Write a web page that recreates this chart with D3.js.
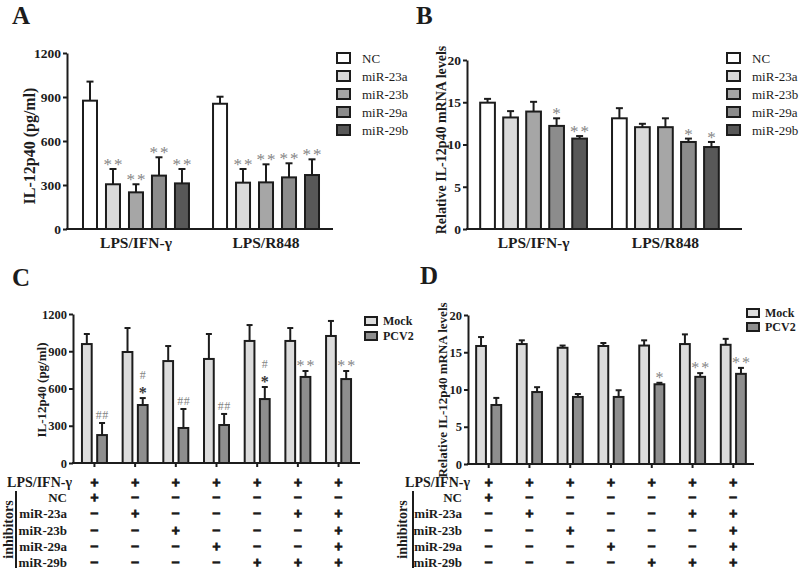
<!DOCTYPE html>
<html><head><meta charset="utf-8">
<script src="https://cdn.jsdelivr.net/npm/d3@7"></script>
<style>body{margin:0;background:#fff}svg{display:block}</style>
</head><body><svg id="c" width="800" height="570"></svg>
<script>
// ---------- data ----------
const groupsAB = ["LPS/IFN-γ", "LPS/R848"];
const seriesAB = ["NC", "miR-23a", "miR-23b", "miR-29a", "miR-29b"];
const colorsAB = ["#ffffff", "#dadada", "#a6a6a6", "#8c8c8c", "#585858"];
const aTicks = [0, 300, 600, 900, 1200];
const aMean = [[875, 305, 250, 364, 311], [854, 316, 318, 352, 368]];
const aSem  = [[130, 104, 55, 125, 98], [48, 93, 123, 96, 107]];
const aSig  = [["", "**", "**", "**", "**"], ["", "**", "**", "**", "**"]];
const bTicks = [0, 5, 10, 15, 20];
const bMean = [[14.95, 13.2, 13.9, 12.2, 10.7], [13.1, 12.05, 12.05, 10.3, 9.7]];
const bSem  = [[0.45, 0.75, 1.15, 0.9, 0.3], [1.2, 0.4, 1.05, 0.4, 0.6]];
const bSig  = [["", "", "", "*", "**"], ["", "", "", "*", "*"]];

const groupsCD = ["g1", "g2", "g3", "g4", "g5", "g6", "g7"];
const seriesCD = ["Mock", "PCV2"];
const colorsCD = ["#dcdcdc", "#8e8e8e"];
const cTicks = [0, 300, 600, 900, 1200];
const cMock = [958, 894, 821, 838, 983, 983, 1023];
const cMockSem = [81, 193, 121, 201, 128, 104, 121];
const cPcv2 = [225, 467, 282, 306, 515, 693, 676];
const cPcv2Sem = [97, 56, 153, 89, 97, 48, 65];
const cHash = ["##", "#", "##", "##", "#", "", ""];
const cStar = ["", "*", "", "", "*", "**", "**"];
const dTicks = [0, 5, 10, 15, 20];
const dMock = [15.84, 16.1, 15.6, 15.84, 15.9, 16.1, 16.0];
const dMockSem = [1.2, 0.5, 0.3, 0.4, 0.7, 1.3, 0.8];
const dPcv2 = [7.92, 9.66, 9.0, 9.0, 10.7, 11.7, 12.1];
const dPcv2Sem = [0.95, 0.65, 0.4, 0.9, 0.2, 0.5, 0.8];
const dStar = ["", "", "", "", "*", "**", "**"];

const treatLabel = "LPS/IFN-γ";
const treatRow = ["+", "+", "+", "+", "+", "+", "+"];
const inhibLabels = ["NC", "miR-23a", "miR-23b", "miR-29a", "miR-29b"];
const inhibRows = [
  ["+", "−", "−", "−", "−", "−", "−"],
  ["−", "+", "−", "−", "−", "+", "+"],
  ["−", "−", "+", "−", "−", "−", "+"],
  ["−", "−", "−", "+", "−", "−", "+"],
  ["−", "−", "−", "−", "+", "+", "+"]
];

// ---------- helpers ----------
const svg = d3.select("#c");
const SERIF = "'Liberation Serif','Times New Roman',serif";
const INK = "#1c1c1c";
const STAR = "#858585";

function yAxis(g, y, ticks, x0, fs) {
  const ax = g.append("g").attr("transform", `translate(${x0},0)`)
    .call(d3.axisLeft(y).tickValues(ticks).tickFormat(d3.format("d")).tickSize(4).tickSizeOuter(0).tickPadding(2));
  ax.select(".domain").attr("stroke", INK).attr("stroke-width", 2);
  ax.selectAll(".tick line").attr("stroke", INK).attr("stroke-width", 2);
  ax.selectAll(".tick text").attr("font-family", SERIF).attr("font-weight", "bold")
    .attr("font-size", fs).attr("fill", INK);
}

function xLine(g, xa, xb, yv) {
  g.append("line").attr("x1", xa - 1).attr("x2", xb).attr("y1", yv).attr("y2", yv)
    .attr("stroke", INK).attr("stroke-width", 2);
}

function bars(g, x0, x1, y, groups, series, colors, mean, sem, capW) {
  groups.forEach((gr, gi) => {
    series.forEach((s, si) => {
      const xl = x0(gr) + x1(s), w = x1.bandwidth(), cx = xl + w / 2;
      const top = y(mean[gi][si]), cap = y(mean[gi][si] + sem[gi][si]);
      g.append("line").attr("x1", cx).attr("x2", cx).attr("y1", top).attr("y2", cap)
        .attr("stroke", INK).attr("stroke-width", 2);
      g.append("line").attr("x1", cx - capW / 2).attr("x2", cx + capW / 2).attr("y1", cap).attr("y2", cap)
        .attr("stroke", INK).attr("stroke-width", 2);
      g.append("rect").attr("x", xl).attr("y", top).attr("width", w).attr("height", y(0) - top)
        .attr("fill", colors[si]).attr("stroke", INK).attr("stroke-width", 2);
    });
  });
}

function note(g, x, yv, txt, fs, col, weight, ls) {
  const t = g.append("text").attr("x", x + (ls ? ls / 2 : 0)).attr("y", yv).attr("text-anchor", "middle")
    .attr("font-family", SERIF).attr("font-size", fs).attr("font-weight", weight || "normal")
    .attr("fill", col).text(txt);
  if (ls) t.attr("letter-spacing", ls);
}

function rotLabel(g, x, yc, txt, fs) {
  g.append("text").attr("transform", `translate(${x},${yc}) rotate(-90)`)
    .attr("text-anchor", "middle").attr("font-family", SERIF).attr("font-weight", "bold")
    .attr("font-size", fs).attr("fill", INK).text(txt);
}

function panelLetter(x, yv, t) {
  svg.append("text").attr("x", x).attr("y", yv).attr("font-family", SERIF).attr("font-weight", "bold")
    .attr("font-size", 25).attr("fill", INK).text(t);
}

function legend(g, x, ys, names, colors, w, h, tx, fs, weight) {
  names.forEach((n, i) => {
    g.append("rect").attr("x", x).attr("y", ys[i] - h / 2).attr("width", w).attr("height", h)
      .attr("fill", colors[i]).attr("stroke", INK).attr("stroke-width", 2);
    g.append("text").attr("x", tx).attr("y", ys[i] + fs * 0.35).attr("font-family", SERIF)
      .attr("font-weight", weight).attr("font-size", fs).attr("fill", INK).text(n);
  });
}

// ---------- Panel A ----------
(function () {
  const g = svg.append("g");
  const y = d3.scaleLinear().domain([0, 1200]).range([229, 53]);
  const x0 = d3.scaleBand().domain(groupsAB).range([67, 335]).paddingInner(0.185).paddingOuter(0.123);
  const x1 = d3.scaleBand().domain(seriesAB).range([0, x0.bandwidth()]).paddingInner(0.391);
  bars(g, x0, x1, y, groupsAB, seriesAB, colorsAB, aMean, aSem, 7);
  xLine(g, 67, 333, 229);
  yAxis(g, y, aTicks, 67, 13.5);
  groupsAB.forEach((gr, gi) => {
    g.append("text").attr("x", x0(gr) + x0.bandwidth() / 2).attr("y", 248).attr("text-anchor", "middle")
      .attr("font-family", SERIF).attr("font-weight", "bold").attr("font-size", 15.5).attr("fill", INK).text(gr);
    seriesAB.forEach((s, si) => {
      if (!aSig[gi][si]) return;
      const cap = y(aMean[gi][si] + aSem[gi][si]);
      note(g, x0(gr) + x1(s) + x1.bandwidth() / 2, cap + 1, aSig[gi][si], 17, STAR, "normal", 2);
    });
  });
  rotLabel(g, 35, 146, "IL-12p40 (pg/ml)", 16);
  legend(g, 337, [58, 76, 94, 112, 130], seriesAB, colorsAB, 13, 10, 362, 13, "normal");
  panelLetter(12, 24, "A");
})();

// ---------- Panel B ----------
(function () {
  const g = svg.append("g");
  const y = d3.scaleLinear().domain([0, 20]).range([229, 60]);
  const x0 = d3.scaleBand().domain(groupsAB).range([467, 732]).paddingInner(0.19).paddingOuter(0.1);
  const x1 = d3.scaleBand().domain(seriesAB).range([0, x0.bandwidth()]).paddingInner(0.36);
  bars(g, x0, x1, y, groupsAB, seriesAB, colorsAB, bMean, bSem, 7);
  xLine(g, 467, 742, 229);
  yAxis(g, y, bTicks, 467, 13.5);
  groupsAB.forEach((gr, gi) => {
    g.append("text").attr("x", x0(gr) + x0.bandwidth() / 2).attr("y", 248).attr("text-anchor", "middle")
      .attr("font-family", SERIF).attr("font-weight", "bold").attr("font-size", 15.5).attr("fill", INK).text(gr);
    seriesAB.forEach((s, si) => {
      if (!bSig[gi][si]) return;
      const cap = y(bMean[gi][si] + bSem[gi][si]);
      note(g, x0(gr) + x1(s) + x1.bandwidth() / 2, cap + 1, bSig[gi][si], 17, STAR, "normal", 2);
    });
  });
  rotLabel(g, 446, 140, "Relative IL-12p40 mRNA levels", 14);
  legend(g, 727, [58, 76, 94, 112, 130], seriesAB, colorsAB, 13, 10, 752, 13, "normal");
  panelLetter(416, 24, "B");
})();

// ---------- Panels C & D ----------
function panelCD(opt) {
  const g = svg.append("g");
  const y = d3.scaleLinear().domain([0, opt.max]).range([opt.y0, opt.y1]);
  const x0 = d3.scaleBand().domain(groupsCD).range([opt.ax, opt.xEnd]).paddingInner(0.386).paddingOuter(opt.po);
  const x1 = d3.scaleBand().domain(seriesCD).range([0, x0.bandwidth()]).paddingInner(0.36);
  const mean = groupsCD.map((_, i) => [opt.mock[i], opt.pcv[i]]);
  const sem = groupsCD.map((_, i) => [opt.mockSem[i], opt.pcvSem[i]]);
  bars(g, x0, x1, y, groupsCD, seriesCD, colorsCD, mean, sem, 6);
  xLine(g, opt.ax, opt.xEnd, opt.y0);
  yAxis(g, y, opt.ticks, opt.ax, 12.5);
  groupsCD.forEach((gr, gi) => {
    const cx = x0(gr) + x0.bandwidth() / 2;
    g.append("line").attr("x1", cx).attr("x2", cx).attr("y1", opt.y0).attr("y2", opt.y0 + 4)
      .attr("stroke", INK).attr("stroke-width", 2);
    const px = x0(gr) + x1("PCV2") + x1.bandwidth() / 2;
    const cap = y(opt.pcv[gi] + opt.pcvSem[gi]);
    const st = opt.star[gi], hs = opt.hash ? opt.hash[gi] : "";
    if (st) note(g, px, cap, st, 16, (hs ? "#3a3a3a" : STAR), hs ? "bold" : "normal", st.length > 1 ? 2 : 0);
    if (hs) note(g, px, st ? cap - 19 : cap - 4, hs, 12, STAR, "normal", 0.5);
    // treatment grid
    const sym = (t, yc) => g.append("text").attr("x", cx).attr("y", yc + 4.5).attr("text-anchor", "middle")
      .attr("font-family", SERIF).attr("font-weight", "bold").attr("font-size", 14)
      .attr("fill", INK).attr("stroke", INK).attr("stroke-width", 1.3).text(t);
    sym(treatRow[gi], opt.rows[0]);
    inhibRows.forEach((r, ri) => sym(r[gi], opt.rows[ri + 1]));
  });
  // row labels
  g.append("text").attr("x", opt.lpsRight).attr("y", opt.rows[0] + 4.5).attr("text-anchor", "end")
    .attr("font-family", SERIF).attr("font-weight", "bold").attr("font-size", 14).attr("fill", INK).text(treatLabel);
  inhibLabels.forEach((l, i) => {
    g.append("text").attr("x", opt.rowRight).attr("y", opt.rows[i + 1] + 4.5).attr("text-anchor", "end")
      .attr("font-family", SERIF).attr("font-weight", "bold").attr("font-size", 13).attr("fill", INK).text(l);
  });
  g.append("line").attr("x1", opt.barX).attr("x2", opt.barX).attr("y1", opt.rows[1] - 6).attr("y2", opt.rows[5] + 6)
    .attr("stroke", INK).attr("stroke-width", 2);
  rotLabel(g, opt.inhX, (opt.rows[1] + opt.rows[5]) / 2, "inhibitors", 14);
  rotLabel(g, opt.labX, opt.labY, opt.label, opt.labFs);
  legend(g, opt.legX, opt.legY, seriesCD, colorsCD, 12, 8, opt.legX + 18, 12, "bold");
  panelLetter(opt.letX, opt.letY, opt.letter);
}

panelCD({
  max: 1200, ticks: cTicks, y0: 463, y1: 314, ax: 73, xEnd: 360, po: 0.22,
  mock: cMock, mockSem: cMockSem, pcv: cPcv2, pcvSem: cPcv2Sem, star: cStar, hash: cHash,
  rows: [482, 497, 513, 530, 546, 562], lpsRight: 72, rowRight: 67, barX: 16, inhX: 13,
  label: "IL-12p40 (pg/ml)", labX: 46, labY: 390, labFs: 13,
  legX: 365, legY: [321, 336], letX: 12, letY: 286, letter: "C"
});
panelCD({
  max: 20, ticks: dTicks, y0: 464, y1: 315, ax: 468, xEnd: 754, po: 0.2,
  mock: dMock, mockSem: dMockSem, pcv: dPcv2, pcvSem: dPcv2Sem, star: dStar, hash: null,
  rows: [482, 497, 513, 530, 546, 562], lpsRight: 470, rowRight: 462, barX: 413, inhX: 407,
  label: "Relative IL-12p40 mRNA levels", labX: 447, labY: 390, labFs: 13,
  legX: 747, legY: [313, 327], letX: 420, letY: 284, letter: "D"
});
</script></body></html>
